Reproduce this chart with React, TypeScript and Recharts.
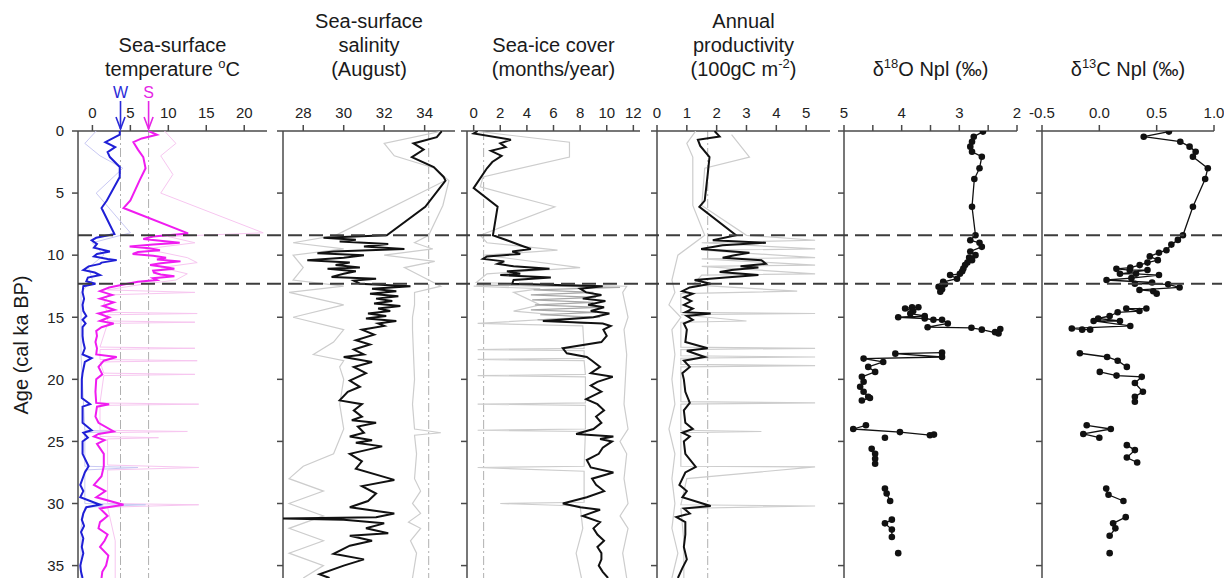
import React from "react";
import { ScatterChart, Scatter, XAxis, YAxis, ReferenceLine, ReferenceDot } from "recharts";

type Pt = [number, number]; // [age (ka BP), value]

// Sea-surface temperature (°C)
const sstWinter: Pt[] = [
    [0, 3.6], [0.3, 3.6], [0.9, 1.7], [1.3, 3.0], [1.7, 2.0], [2.1, 2.3], [2.9, 3.6], [3.7, 3.6], [5.6, 1.9], [6.2, 1.2],
    [8.3, 2.9], [8.6, 0.5], [8.8, -0.1], [9.1, 0.6], [9.4, 0.2], [9.7, 2.3], [9.9, 0.6], [10.1, 0.2], [10.3, 2.0], [10.4, 3.2],
    [10.6, 1.2], [10.7, 1.0], [10.9, -0.5], [11.2, -1.2], [11.4, 0.3], [11.6, 1.0], [11.8, -0.6], [12.1, -0.8], [12.3, 0.4],
    [12.5, -1.2], [13, -1.3], [13.5, -1.1], [14, -1.3], [14.5, -1.2], [14.9, -0.8], [15.2, -1.3], [15.5, -0.9], [15.8, -1.3],
    [16.5, -1.3], [17, -1.2], [17.5, -1.0], [18, -1.3], [18.3, -0.1], [18.6, -1.0], [19.5, -1.3], [20, -1.4], [21.5, -1.4],
    [22, -0.3], [22.2, -1.3], [23.5, -1.3], [24.1, -0.1], [24.3, -1.2], [24.7, -0.6], [25, -1.3], [26, -1.3], [27, -0.5],
    [27.5, -1.0], [28.5, -1.6], [29, -1.2], [29.5, -1.6], [30.1, 1.0], [30.3, -0.8], [30.8, -1.2], [31.3, -1.4], [31.8, -1.1],
    [32.3, -1.5], [32.8, -1.2], [33.5, -1.4], [34, -1.2], [34.5, -1.4], [35, -1.6], [35.5, -1.5], [36, -1.3],
];
const sstSummer: Pt[] = [
    [0, 7.4], [0.3, 8.5], [0.6, 6.5], [0.9, 5.4], [1.5, 6.0], [2.1, 6.7], [3.0, 7.0], [4.0, 6.2], [5.6, 5.0], [6.2, 4.1],
    [8.25, 12.6], [8.5, 8.0], [8.7, 6.7], [9.0, 11.5], [9.15, 8.0], [9.3, 4.9], [9.45, 7.5], [9.6, 8.9], [9.75, 6.0], [9.9, 5.3],
    [10.05, 8.0], [10.2, 9.7], [10.35, 8.5], [10.5, 11.6], [10.65, 9.0], [10.8, 7.6], [10.95, 9.5], [11.1, 10.8], [11.25, 8.0],
    [11.4, 8.1], [11.55, 9.0], [11.7, 10.8], [11.85, 8.0], [12.0, 8.5], [12.15, 6.0], [12.3, 4.6], [12.6, 2.2], [12.9, 1.0],
    [13.2, 2.6], [13.5, 1.0], [13.8, 2.8], [14.1, 1.4], [14.4, 2.9], [14.7, 0.8], [15.0, 2.2], [15.3, 1.0], [15.5, 2.8],
    [15.8, 1.2], [16.1, 0.5], [16.5, 0.6], [17.0, 0.4], [17.5, 0.6], [18.0, 0.5], [18.2, 3.2], [18.5, 1.5], [19.0, 0.8],
    [19.6, 1.3], [20.0, 0.5], [21.0, 0.4], [21.9, 0.5], [22.0, 2.2], [22.2, 0.6], [23.0, 0.4], [23.5, 0.8], [24.2, 2.8],
    [24.4, 0.8], [24.6, 0.2], [24.9, 1.6], [25.2, 0.6], [26.0, 1.5], [27.0, 1.5], [27.8, 1.2], [28.5, 0.2], [29.0, 1.7],
    [29.5, 0.5], [30.1, 4.1], [30.4, 1.0], [31.0, 2.0], [31.5, 1.0], [32.0, 0.8], [32.5, 2.0], [33.0, 1.6], [33.5, 1.0],
    [34.2, 2.1], [35.0, 1.8], [35.5, 1.3], [36.0, 1.2],
];
const sstSummerAlt: Pt[] = [
    [0, 9.5], [1, 11.0], [2, 9.0], [3.5, 10.6], [5, 9.0], [8.2, 22.5], [8.5, 10], [9, 13.5], [9.5, 7], [10.2, 12.5],
    [10.6, 13.8], [11, 9], [11.5, 12.5], [12, 11], [12.4, 6], [12.8, 2], [13.0, 13.5], [13.2, 2], [14, 1.5], [14.6, 2],
    [14.7, 13.8], [14.8, 2], [15.3, 2], [15.4, 13.5], [15.5, 2], [17.4, 1], [17.5, 13.5], [17.6, 1], [18.4, 1], [18.5, 13.8],
    [18.6, 1], [19.5, 1.5], [19.6, 13.5], [19.7, 1.5], [21.9, 1], [22.0, 14], [22.1, 1], [24.1, 1], [24.2, 12.5], [24.3, 1],
    [24.6, 1], [24.7, 8.7], [24.8, 2], [26.9, 2], [27.1, 14], [27.3, 2], [30.0, 2], [30.1, 14], [30.3, 2], [33, 3], [36, 3],
];
const sstWinterAlt: Pt[] = [
    [0, 0.5], [1, -1], [2, 1], [3, 4], [5, 0.5], [8.2, 5], [9, 0], [10, 1.5], [11, -0.5], [12, 0], [13, -1.5], [15, -1.5],
    [18, -1.5], [24.1, -1], [24.2, 3], [24.3, -1], [27, -1], [27.1, 6], [27.3, -1], [30, -1], [30.1, 7], [30.3, -1],
    [32, -1.5], [36, -1.5],
];

// Sea-surface salinity (August)
const salinity: Pt[] = [
    [0, 34.85], [0.5, 34.6], [1.0, 33.45], [1.5, 33.95], [2.1, 33.37], [2.9, 34.45], [3.7, 34.94], [4.0, 35.03], [6.1, 34.03],
    [8.4, 32.13], [8.6, 29.0], [8.75, 30.6], [8.9, 29.8], [9.1, 32.2], [9.3, 31.0], [9.5, 33.0], [9.7, 29.5], [9.85, 28.7],
    [10.0, 31.0], [10.2, 30.0], [10.4, 28.2], [10.6, 30.3], [10.8, 29.6], [11.0, 30.8], [11.1, 29.2], [11.3, 30.6], [11.5, 30.0],
    [11.75, 29.4], [11.9, 31.6], [12.05, 30.5], [12.3, 30.8], [12.5, 33.3], [12.7, 31.4], [12.9, 32.6], [13.1, 31.3],
    [13.3, 32.7], [13.5, 31.6], [13.7, 32.4], [13.9, 31.5], [14.1, 32.8], [14.3, 31.7], [14.5, 32.3], [14.7, 31.2],
    [14.9, 32.1], [15.1, 31.1], [15.3, 32.6], [15.5, 31.7], [15.7, 32.0], [16.0, 30.9], [16.4, 31.5], [16.85, 30.6],
    [17.2, 31.3], [17.6, 30.5], [18.0, 31.0], [18.2, 30.0], [18.6, 31.4], [19.0, 30.5], [19.5, 31.1], [20.1, 30.3],
    [20.6, 30.8], [21.0, 30.2], [21.7, 29.8], [22.0, 30.9], [22.5, 30.5], [23.0, 30.9], [23.3, 30.4], [23.5, 31.6],
    [23.8, 30.7], [24.3, 31.0], [24.6, 30.3], [24.9, 31.4], [25.1, 30.6], [25.4, 31.9], [26.0, 30.3], [26.6, 30.9],
    [27.2, 30.6], [28.1, 32.5], [28.6, 30.9], [29.2, 31.6], [29.8, 31.2], [30.3, 30.3], [30.8, 32.5], [31.1, 31.6],
    [31.2, 27.0], [31.3, 30.0], [31.6, 32.0], [32.0, 31.1], [32.4, 32.2], [32.6, 30.3], [33.0, 31.4], [33.4, 30.3],
    [34.05, 29.5], [34.5, 31.0], [35.0, 30.0], [35.7, 28.8], [36, 29.3],
];
const salinityHigh: Pt[] = [
    [0, 34.9], [1, 32], [2, 32.5], [3, 34.5], [4, 35.2], [6, 34.9], [8.4, 34.2], [9, 33.5], [9.5, 34.4], [10, 32], [10.5, 34.5],
    [11, 33], [12.5, 34.8], [13, 33.5], [14, 33.5], [15, 33.4], [16, 33.4], [20, 33.5], [22, 33.4], [24, 33.5], [24.3, 34.8],
    [24.5, 33.5], [26, 33.6], [28, 33.5], [29, 33.8], [30, 33.4], [30.8, 33.8], [31.5, 33.2], [32, 33.8], [33, 33.3],
    [34, 33.6], [36, 33.4],
];
const salinityLow: Pt[] = [
    [4, 35], [8.4, 29.6], [9, 27.5], [9.5, 30], [10, 27.5], [11, 28], [12, 27.5], [12.5, 30], [13, 27.3], [14, 30], [15, 27.5],
    [16, 30], [17, 29.5], [18, 28.5], [18.5, 30], [19, 29.8], [20, 30], [22, 29.8], [24, 30], [26, 29.5], [27, 28], [28, 27.3],
    [29, 29], [30, 27.3], [31, 29], [32, 27.3], [33, 29], [34, 27.3], [35, 29], [36, 28],
];

// Sea-ice cover (months/year)
const seaIce: Pt[] = [
    [0, 0.3], [0.2, 0], [0.7, 2.8], [1.0, 2.0], [1.3, 2.4], [1.6, 1.3], [2.0, 2.1], [2.5, 1.4], [3.0, 1.0], [4.6, 0], [6.1, 1.8],
    [8.4, 1.45], [8.8, 2.5], [9.2, 3.5], [9.5, 4.3], [9.7, 2.9], [9.9, 3.5], [10.1, 1.0], [10.3, 0.7], [10.5, 2.3], [10.7, 1.8],
    [10.9, 3.0], [11.1, 5.7], [11.3, 2.5], [11.5, 3.5], [11.6, 2.0], [11.8, 5.8], [12.0, 3.0], [12.3, 2.9], [12.5, 9.7],
    [12.7, 8.0], [13.0, 8.45], [13.2, 9.6], [13.5, 8.2], [13.7, 9.9], [14.0, 8.6], [14.2, 9.8], [14.5, 8.8], [14.7, 10.2],
    [15.0, 9.0], [15.3, 5.2], [15.5, 9.7], [15.7, 10.3], [16.0, 9.75], [16.5, 10.0], [17.0, 9.6], [17.5, 6.7], [17.9, 7.0],
    [18.2, 8.5], [18.5, 8.9], [19.0, 9.5], [19.5, 8.8], [19.8, 10.45], [20.2, 9.3], [20.5, 8.8], [21.0, 9.6], [21.6, 8.45],
    [22.0, 9.3], [22.5, 9.8], [23.0, 9.2], [23.5, 9.6], [24.0, 9.0], [24.4, 7.7], [24.6, 10.5], [24.8, 9.5], [25.0, 10.4],
    [25.5, 9.7], [26.0, 9.4], [26.5, 8.5], [27.1, 8.8], [27.5, 10.5], [28.0, 8.9], [28.5, 9.2], [29.0, 9.8], [29.5, 8.5],
    [30.0, 6.7], [30.3, 8.0], [30.5, 9.5], [31.0, 8.2], [31.5, 9.5], [32.0, 9.0], [32.5, 9.3], [33.0, 9.8], [33.5, 9.3],
    [34.0, 9.6], [34.5, 9.6], [35.0, 9.4], [35.5, 9.7], [36.0, 10.1],
];
const seaIceHigh: Pt[] = [
    [0, 0], [0.9, 7.2], [2.1, 7.2], [3.7, 0.7], [4.5, 0.5], [6.1, 6.1], [8.4, 0.5], [9, 1], [9.6, 6.3], [10, 0.8], [11, 8],
    [11.5, 1.0], [12.2, 0.2], [12.5, 11.5], [13, 11.2], [14, 11.4], [15, 11.6], [16, 11.3], [18, 11.5], [20, 11.4], [22, 11.3],
    [24, 11.6], [25, 11.0], [26, 11.5], [28, 11.3], [30, 11.6], [31, 11.0], [32, 11.6], [34, 11.2], [36, 11.5],
];
const seaIceLow: Pt[] = [
    [12.5, 0], [12.7, 5], [13, 3], [14, 5], [14.5, 3], [15, 8.2], [15.5, 0.3], [15.7, 8.2], [17.5, 8.3], [17.6, 0.3], [17.7, 8.3],
    [18.3, 8.3], [18.4, 0.3], [18.5, 8.3], [19.6, 8.4], [19.7, 0.3], [19.8, 8.4], [21.9, 8.4], [22.0, 0.3], [22.1, 8.4],
    [24.0, 8.4], [24.1, 0.3], [24.2, 8.4], [27.0, 8.3], [27.1, 0.3], [27.4, 8.3], [29.9, 8.3], [30.0, 2], [30.2, 8], [32, 8.2],
    [34, 7.7], [36, 8.1],
];
const seaIceMid: Pt[] = [
    [12.4, 0.2], [12.6, 11], [12.8, 4.5], [13.0, 9], [13.2, 4.3], [13.4, 9.2], [13.6, 4.4], [13.8, 9], [14.0, 4.6], [14.2, 9.5],
    [14.4, 4.3], [14.6, 9.2], [14.8, 5], [15.0, 9.5], [15.2, 4.8], [15.5, 8.5],
];

// Annual productivity (100gC m-2)
const productivity: Pt[] = [
    [0, 1.93], [0.45, 2.1], [0.7, 1.37], [1.2, 1.45], [2.1, 1.76], [3.5, 1.7], [5.6, 1.6], [6.1, 1.42], [8.4, 2.65], [8.8, 1.87],
    [9.0, 3.65], [9.2, 2.2], [9.5, 1.48], [9.8, 3.1], [10.0, 2.6], [10.2, 2.2], [10.4, 3.5], [10.7, 3.65], [10.9, 2.8],
    [11.0, 3.4], [11.2, 2.5], [11.35, 2.1], [11.6, 3.4], [11.8, 2.3], [12.0, 1.26], [12.3, 1.8], [12.6, 1.1], [12.9, 0.85],
    [13.1, 1.2], [13.4, 0.9], [13.7, 1.15], [14.0, 0.9], [14.3, 1.2], [14.6, 0.95], [14.7, 1.8], [14.9, 1.0], [15.2, 1.2],
    [15.5, 0.9], [16.0, 1.0], [17.0, 0.95], [17.5, 1.7], [17.7, 1.0], [18.2, 1.6], [18.5, 0.9], [19.0, 1.1], [19.5, 0.85],
    [20, 0.9], [21.0, 0.95], [21.9, 1.1], [22.5, 0.9], [23.5, 0.95], [24.0, 1.2], [24.3, 0.85], [24.6, 1.1], [25.0, 0.9],
    [26, 0.95], [27.05, 1.3], [27.5, 0.95], [28.5, 0.75], [29, 1.0], [29.5, 0.85], [30.2, 1.8], [30.4, 0.9], [30.8, 1.1],
    [31.1, 0.65], [31.5, 0.95], [32.5, 0.95], [33.5, 0.9], [34.5, 1.0], [35.2, 0.85], [36, 0.7],
];
const productivityHigh: Pt[] = [
    [0.3, 2.5], [2.1, 3.1], [3, 1.6], [6, 1.5], [8.4, 3.0], [8.8, 5.3], [9.0, 1.5], [9.5, 5.3], [9.6, 1.5], [10.2, 5.3],
    [10.3, 1.5], [10.8, 5.3], [10.9, 1.5], [11.5, 5.3], [11.6, 1.5], [12.4, 1.2], [12.9, 4.7], [13.1, 0.8], [14.6, 0.8],
    [14.7, 5.3], [14.8, 0.8], [15.3, 3.0], [15.4, 0.8], [17.4, 0.8], [17.5, 5.3], [17.6, 0.8], [18.1, 0.8], [18.2, 5.3],
    [18.3, 0.8], [18.8, 0.8], [18.9, 5.3], [19.0, 0.8], [21.8, 0.8], [21.9, 5.3], [22.0, 0.8], [24.1, 0.8], [24.2, 3.5],
    [24.3, 0.8], [27.0, 0.8], [27.05, 5.3], [28.0, 1.0], [30.1, 0.8], [30.2, 5.3], [30.4, 0.8], [33, 0.9], [36, 0.9],
];
const productivityLow: Pt[] = [
    [0, 1.3], [1, 1.0], [2.1, 1.2], [6, 1.2], [8.4, 1.6], [10, 0.7], [12, 0.5], [13, 0.6], [14, 0.4], [15, 0.8], [16, 0.5],
    [18, 0.6], [20, 0.5], [22, 0.6], [24, 0.4], [26, 0.6], [28, 0.5], [30, 0.6], [32, 0.5], [34, 0.7], [36, 0.5],
];

// δ18O Npl (‰), one array per connected run of samples
const d18oRuns: Pt[][] = [
    [[0.05, 2.59], [0.46, 2.75], [0.86, 2.78], [1.26, 2.81], [1.67, 2.78], [2.07, 2.61], [3.0, 2.65], [3.87, 2.74], [6.1, 2.78],
        [8.4, 2.72], [8.8, 2.81], [9.0, 2.65], [9.33, 2.61], [9.7, 2.81], [10.0, 2.72], [10.2, 2.83], [10.4, 2.78], [10.6, 2.86],
        [10.8, 2.9], [11.07, 2.93], [11.3, 2.95], [11.5, 2.99], [11.6, 3.16], [11.9, 3.04], [12.15, 3.28], [12.35, 3.25],
        [12.55, 3.36], [12.75, 3.3], [12.95, 3.33]],
    [[14.2, 3.71], [14.2, 3.82], [14.3, 3.94], [14.5, 3.8], [14.7, 3.85], [14.9, 3.6], [15.0, 4.06], [15.1, 3.6], [15.2, 3.45],
        [15.2, 3.3], [15.5, 3.2], [15.8, 3.55], [15.85, 2.79], [16.0, 2.61], [16.3, 2.32], [15.95, 2.29], [16.2, 2.38]],
    [[17.85, 3.3], [17.93, 4.11], [18.2, 3.3], [18.33, 4.66], [18.6, 4.32], [19.0, 4.58], [19.4, 4.46], [19.8, 4.69],
        [20.2, 4.66], [20.6, 4.72], [21.0, 4.66], [21.4, 4.58], [21.5, 4.55], [21.7, 4.69]],
    [[23.7, 4.62], [24.0, 4.84], [24.25, 4.03], [24.5, 3.51], [24.45, 3.44]],
    [[24.7, 4.29]],
    [[25.6, 4.52], [26.0, 4.46], [26.4, 4.46], [26.8, 4.46]],
    [[28.8, 4.29], [29.2, 4.26], [29.8, 4.2]],
    [[31.3, 4.17], [31.6, 4.29], [32.1, 4.17], [32.7, 4.17]],
    [[34.0, 4.06]],
];

// δ13C Npl (‰)
const d13cRuns: Pt[][] = [
    [[0.05, 0.607], [0.46, 0.387], [0.86, 0.706], [1.26, 0.787], [1.67, 0.84], [2.07, 0.816], [3.0, 0.946], [3.87, 0.923],
        [6.1, 0.816], [8.4, 0.729], [8.77, 0.685], [9.15, 0.628], [9.6, 0.585], [9.8, 0.52], [10.1, 0.44], [10.4, 0.51],
        [10.6, 0.42], [10.8, 0.352], [11.0, 0.27], [11.1, 0.149], [11.2, 0.265], [11.2, 0.42], [11.5, 0.18], [11.5, 0.32],
        [11.6, 0.52], [11.85, 0.28], [12.0, 0.063], [12.2, 0.46], [12.3, 0.31], [12.35, 0.6], [12.6, 0.7], [12.8, 0.35],
        [12.9, 0.47], [13.1, 0.5]],
    [[14.3, 0.41], [14.3, 0.235], [14.5, 0.35], [14.6, 0.16], [14.9, 0.09], [15.1, -0.01], [15.3, 0.18], [15.3, -0.05],
        [15.7, 0.27], [15.9, -0.24], [16.0, -0.15], [16.0, -0.08]],
    [[17.9, -0.17], [18.2, 0.068], [18.5, 0.16], [19.0, 0.24]],
    [[19.4, 0.004], [19.7, 0.15], [19.8, 0.37], [20.3, 0.31], [21.0, 0.38], [21.4, 0.31], [21.8, 0.31]],
    [[23.7, -0.11], [24.0, 0.1], [24.4, -0.14], [24.7, 0.0]],
    [[25.3, 0.24], [25.7, 0.31], [26.3, 0.24], [26.7, 0.33]],
    [[28.8, 0.06], [29.3, 0.08], [29.8, 0.21]],
    [[31.1, 0.23], [31.6, 0.12], [32.0, 0.14], [32.6, 0.09]],
    [[34.0, 0.09]],
];

const AGE_TICKS = [0, 5, 10, 15, 20, 25, 30, 35];
const EVENT_AGES = [8.4, 12.3];

const FONT = "'Liberation Sans', Arial, Helvetica, sans-serif";
const H = 578;
const PLOT_TOP = 131;
const X_H = 30;
const Y_W = 60;
const AXIS = { stroke: "#4a4a4a", strokeWidth: 1.5 };
const GRAY = "#cdcdcd";

interface Series {
    data: Pt[];
    color: string;
    width: number;
    dots?: boolean;
}

interface PanelProps {
    x0: number;
    x1: number;
    domain: [number, number];
    ticks: number[];
    reversed?: boolean;
    fmt?: (v: number) => string;
    showAge?: boolean;
    series: Series[];
    refs?: number[];
    children?: React.ReactNode;
}

const toRows = (pts: Pt[]) => pts.map(([age, v]) => ({ age, v }));
const noDot = () => <g />;
const blackDot = (p: any) => <circle cx={p.cx} cy={p.cy} r={3.3} fill="#111" />;

const arrowShape = (label: string, color: string) => (p: any) => (
    <g>
        <line x1={p.cx} y1={p.cy - 30} x2={p.cx} y2={p.cy - 2} stroke={color} strokeWidth={1.6} />
        <polyline
            points={`${p.cx - 4.5},${p.cy - 14} ${p.cx},${p.cy - 2} ${p.cx + 4.5},${p.cy - 14}`}
            fill="none"
            stroke={color}
            strokeWidth={1.6}
        />
        <text x={p.cx} y={p.cy - 33} textAnchor="middle" fill={color} fontSize={16} fontFamily={FONT}>
            {label}
        </text>
    </g>
);

function Panel({ x0, x1, domain, ticks, reversed, fmt, showAge, series, refs, children }: PanelProps) {
    const w = x1 - x0;
    return (
        <div style={{ position: "absolute", left: x0 - Y_W, top: 0 }}>
            <ScatterChart width={w + Y_W + 10} height={H} margin={{ top: PLOT_TOP - X_H, right: 10, bottom: 0, left: 0 }}>
                <XAxis
                    type="number"
                    dataKey="v"
                    orientation="top"
                    height={X_H}
                    domain={domain}
                    ticks={ticks}
                    interval={0}
                    allowDataOverflow
                    reversed={reversed}
                    tickFormatter={fmt}
                    tickSize={6}
                    tickMargin={7}
                    axisLine={AXIS}
                    tickLine={AXIS}
                    tick={{ fill: "#222", fontSize: 15, fontFamily: FONT }}
                />
                <YAxis
                    type="number"
                    dataKey="age"
                    domain={[0, 36]}
                    ticks={AGE_TICKS}
                    interval={0}
                    reversed
                    allowDataOverflow
                    width={Y_W}
                    tickSize={6}
                    tickMargin={8}
                    axisLine={AXIS}
                    tickLine={AXIS}
                    tick={{ fill: "#222", fontSize: 15, fontFamily: FONT }}
                    tickFormatter={showAge ? (v: number) => String(v) : () => ""}
                />
                {(refs || []).map((r) => (
                    <ReferenceLine key={r} x={r} stroke="#b0b0b0" strokeWidth={1} strokeDasharray="9 3 2 3" />
                ))}
                {series.map((s, i) => (
                    <Scatter
                        key={i}
                        data={toRows(s.data)}
                        line={{ stroke: s.color, strokeWidth: s.width }}
                        lineJointType="linear"
                        shape={s.dots ? blackDot : noDot}
                        isAnimationActive={false}
                    />
                ))}
                {children}
            </ScatterChart>
        </div>
    );
}

const PANELS = {
    sst: { x0: 78, x1: 267 },
    sss: { x0: 283, x1: 455 },
    ice: { x0: 467, x1: 640 },
    prod: { x0: 657, x1: 830 },
    d18o: { x0: 844, x1: 1017 },
    d13c: { x0: 1042, x1: 1214 },
};

const mid = (p: { x0: number; x1: number }) => (p.x0 + p.x1) / 2;

function Title({ x, lines }: { x: number; lines: React.ReactNode[] }) {
    const base = 76;
    return (
        <>
            {lines.map((l, i) => (
                <text
                    key={i}
                    x={x}
                    y={base - (lines.length - 1 - i) * 24}
                    textAnchor="middle"
                    fontSize={20}
                    fontFamily={FONT}
                    fill="#1a1a1a"
                >
                    {l}
                </text>
            ))}
        </>
    );
}

export default function App() {
    return (
        <div style={{ position: "relative", width: 1230, height: H, overflow: "hidden", background: "#fff" }}>
            <style>{"body{margin:0}"}</style>
            <svg width={1230} height={H} style={{ position: "absolute", left: 0, top: 0 }}>
                <Title
                    x={mid(PANELS.sst)}
                    lines={[
                        "Sea-surface",
                        <>
                            temperature <tspan fontSize={13} dy={-8}>o</tspan>
                            <tspan dy={8}>C</tspan>
                        </>,
                    ]}
                />
                <Title x={mid(PANELS.sss)} lines={["Sea-surface", "salinity", "(August)"]} />
                <Title x={mid(PANELS.ice)} lines={["Sea-ice cover", "(months/year)"]} />
                <Title
                    x={mid(PANELS.prod)}
                    lines={[
                        "Annual",
                        "productivity",
                        <>
                            (100gC m<tspan fontSize={13} dy={-8}>-2</tspan>
                            <tspan dy={8}>)</tspan>
                        </>,
                    ]}
                />
                <Title
                    x={mid(PANELS.d18o)}
                    lines={[
                        <>
                            δ<tspan fontSize={13} dy={-8}>18</tspan>
                            <tspan dy={8}>O Npl (‰)</tspan>
                        </>,
                    ]}
                />
                <Title
                    x={mid(PANELS.d13c)}
                    lines={[
                        <>
                            δ<tspan fontSize={13} dy={-8}>13</tspan>
                            <tspan dy={8}>C Npl (‰)</tspan>
                        </>,
                    ]}
                />
                <text
                    x={28}
                    y={345}
                    transform="rotate(-90 28 345)"
                    textAnchor="middle"
                    fontSize={20}
                    fontFamily={FONT}
                    fill="#1a1a1a"
                >
                    Age (cal ka BP)
                </text>
            </svg>

            <Panel
                {...PANELS.sst}
                domain={[-1.9, 23]}
                ticks={[0, 5, 10, 15, 20]}
                showAge
                refs={[3.7, 7.4]}
                series={[
                    { data: sstSummerAlt, color: "#f7c6f0", width: 1 },
                    { data: sstWinterAlt, color: "#c9c9f3", width: 1 },
                    { data: sstWinter, color: "#1f1fd6", width: 2 },
                    { data: sstSummer, color: "#f01cf0", width: 2 },
                ]}
            >
                <ReferenceDot x={3.7} y={0} ifOverflow="visible" shape={arrowShape("W", "#2a2ad8")} />
                <ReferenceDot x={7.4} y={0} ifOverflow="visible" shape={arrowShape("S", "#e526e5")} />
            </Panel>

            <Panel
                {...PANELS.sss}
                domain={[27, 35.5]}
                ticks={[28, 30, 32, 34]}
                refs={[34.2]}
                series={[
                    { data: salinityLow, color: GRAY, width: 1.2 },
                    { data: salinityHigh, color: GRAY, width: 1.2 },
                    { data: salinity, color: "#111", width: 2 },
                ]}
            />

            <Panel
                {...PANELS.ice}
                domain={[-0.5, 12.5]}
                ticks={[0, 2, 4, 6, 8, 10, 12]}
                refs={[0.75]}
                series={[
                    { data: seaIceLow, color: GRAY, width: 1.2 },
                    { data: seaIceHigh, color: GRAY, width: 1.2 },
                    { data: seaIceMid, color: "#a8a8a8", width: 1.2 },
                    { data: seaIce, color: "#111", width: 2 },
                ]}
            />

            <Panel
                {...PANELS.prod}
                domain={[0, 5.8]}
                ticks={[0, 1, 2, 3, 4, 5]}
                refs={[1.7]}
                series={[
                    { data: productivityHigh, color: GRAY, width: 1.2 },
                    { data: productivityLow, color: GRAY, width: 1.2 },
                    { data: productivity, color: "#111", width: 2 },
                ]}
            />

            <Panel
                {...PANELS.d18o}
                domain={[2, 5]}
                reversed
                ticks={[2, 2.5, 3, 3.5, 4, 4.5, 5]}
                fmt={(v: number) => (Number.isInteger(v) ? String(v) : "")}
                series={d18oRuns.map((run) => ({ data: run, color: "#111", width: 1.3, dots: true }))}
            />

            <Panel
                {...PANELS.d13c}
                domain={[-0.5, 1]}
                ticks={[-0.5, 0, 0.5, 1]}
                fmt={(v: number) => v.toFixed(1)}
                series={d13cRuns.map((run) => ({ data: run, color: "#111", width: 1.3, dots: true }))}
            />

            {/* dashed event lines across all panels */}
            <div style={{ position: "absolute", left: 0, top: 0, pointerEvents: "none" }}>
                <ScatterChart width={1230} height={H} margin={{ top: PLOT_TOP, right: 8, bottom: 0, left: 78 }}>
                    <XAxis type="number" dataKey="v" domain={[0, 1]} hide allowDataOverflow />
                    <YAxis type="number" dataKey="age" domain={[0, 36]} reversed hide allowDataOverflow />
                    {EVENT_AGES.map((a) => (
                        <Scatter
                            key={a}
                            data={[{ v: 0, age: a }, { v: 1, age: a }]}
                            line={{ stroke: "#3c3c3c", strokeWidth: 2, strokeDasharray: "14 7" }}
                            shape={noDot}
                            isAnimationActive={false}
                        />
                    ))}
                </ScatterChart>
            </div>
        </div>
    );
}
